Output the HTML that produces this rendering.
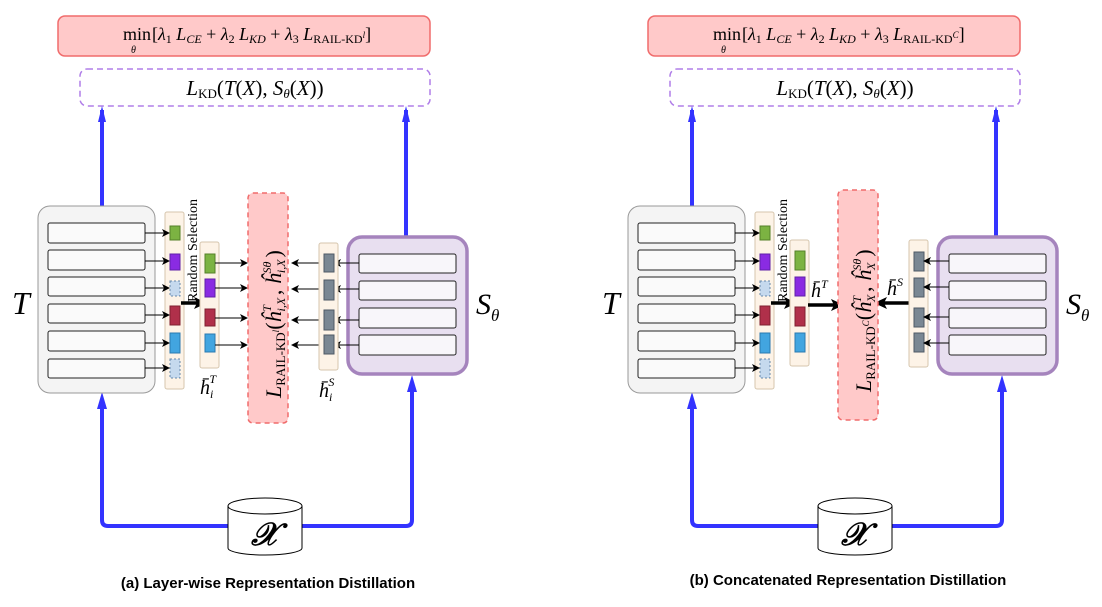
<!DOCTYPE html>
<html><head><meta charset="utf-8"><style>
html,body{margin:0;padding:0;background:#fff;}
svg{display:block;}
.m{font-family:"Liberation Serif",serif;font-style:italic;}
.r{font-family:"Liberation Serif",serif;}
</style></head><body>
<svg width="1102" height="607" viewBox="0 0 1102 607" xmlns="http://www.w3.org/2000/svg">
<defs>
<marker id="ah" markerWidth="8" markerHeight="8" refX="7" refY="4" orient="auto" markerUnits="userSpaceOnUse"><path d="M0,0 L8,4 L0,8 L2,4 z" fill="#000"/></marker>
<marker id="ahb" markerWidth="14" markerHeight="14" refX="12" refY="7" orient="auto" markerUnits="userSpaceOnUse"><path d="M0,1 L13,7 L0,13 L3,7 z" fill="#000"/></marker>
<g id="common">
  <rect x="58" y="16" width="372" height="40" rx="7" fill="#ffc9c9" stroke="#f06c6c" stroke-width="1.5"/>
  <rect x="80" y="69" width="350" height="37" rx="7" fill="#fff" stroke="#b07ee8" stroke-width="1.5" stroke-dasharray="6,4"/>
  <text x="255" y="95" text-anchor="middle" font-size="21" class="m">L<tspan font-size="13" font-style="normal" dy="3">KD</tspan><tspan dy="-3" font-style="normal">(</tspan>T<tspan font-style="normal">(</tspan>X<tspan font-style="normal">), </tspan>S<tspan font-size="13" dy="3">θ</tspan><tspan dy="-3" font-style="normal">(</tspan>X<tspan font-style="normal">))</tspan></text>
  <text x="123" y="40" font-size="18" class="r">min</text>
  <text x="131" y="53" font-size="10" class="m">θ</text>
  <path d="M102,206 L102,110" stroke="#3333ff" stroke-width="4" fill="none"/>
  <path d="M98,122 L102,106 L106,122 Z" fill="#3333ff"/>
  <path d="M406,236 L406,110" stroke="#3333ff" stroke-width="4" fill="none"/>
  <path d="M402,122 L406,106 L410,122 Z" fill="#3333ff"/>
  <path d="M228,526 L108,526 Q102,526 102,520 L102,400" stroke="#3333ff" stroke-width="4" fill="none"/>
  <path d="M97,409 L102,392 L107,409 Z" fill="#3333ff"/>
  <path d="M302,526 L406,526 Q412,526 412,520 L412,383" stroke="#3333ff" stroke-width="4" fill="none"/>
  <path d="M407,392 L412,375 L417,392 Z" fill="#3333ff"/>
  <path d="M228,506 L228,548 A37,7 0 0 0 302,548 L302,506" fill="#fff" stroke="#000" stroke-width="1"/>
  <ellipse cx="265" cy="506" rx="37" ry="8" fill="#fff" stroke="#000" stroke-width="1"/>
  <text x="265" y="545" text-anchor="middle" font-size="32" class="m" font-weight="bold">𝒳</text>
  <rect x="38" y="206" width="117" height="187" rx="12" fill="#f4f4f4" stroke="#999" stroke-width="1"/>
  <g fill="#fafafa" stroke="#222" stroke-width="1">
    <rect x="48" y="223" width="97" height="20" rx="2"/>
    <rect x="48" y="250" width="97" height="20" rx="2"/>
    <rect x="48" y="277" width="97" height="19" rx="2"/>
    <rect x="48" y="304" width="97" height="19" rx="2"/>
    <rect x="48" y="331" width="97" height="20" rx="2"/>
    <rect x="48" y="359" width="97" height="19" rx="2"/>
  </g>
  <text x="12" y="314" font-size="32" class="m">T</text>
  <rect x="165" y="212" width="19" height="177" rx="2" fill="#fdf3e7" stroke="#d6c6ae"/>
  <rect x="170" y="226" width="10" height="14" fill="#7cb342" stroke="#55802a"/>
  <rect x="170" y="254" width="10" height="16" fill="#8a2be2" stroke="#6020a8"/>
  <rect x="170" y="281" width="10" height="15" fill="#c5d9ee" stroke="#6688aa" stroke-dasharray="2,2"/>
  <rect x="170" y="306" width="10" height="19" fill="#b0304a" stroke="#802030"/>
  <rect x="170" y="333" width="10" height="20" fill="#42a5e0" stroke="#2a7ab0"/>
  <rect x="170" y="359" width="10" height="19" fill="#c5d9ee" stroke="#6688aa" stroke-dasharray="2,2"/>
  <g stroke="#000" stroke-width="1" marker-end="url(#ah)">
    <line x1="145" y1="233" x2="169" y2="233"/>
    <line x1="145" y1="261" x2="169" y2="261"/>
    <line x1="145" y1="288" x2="169" y2="288"/>
    <line x1="145" y1="315" x2="169" y2="315"/>
    <line x1="145" y1="343" x2="169" y2="343"/>
    <line x1="145" y1="368" x2="169" y2="368"/>
  </g>
  <text class="r" font-size="14" transform="translate(197,302) rotate(-90)">Random Selection</text>
  <line x1="181" y1="303" x2="206" y2="303" stroke="#000" stroke-width="3.5" marker-end="url(#ahb)"/>
  <rect x="348" y="237" width="119" height="137" rx="14" fill="#e8dff0" stroke="#a584bd" stroke-width="3.5"/>
  <g fill="#f8f6fa" stroke="#222" stroke-width="1">
    <rect x="359" y="254" width="97" height="19" rx="2"/>
    <rect x="359" y="281" width="97" height="19" rx="2"/>
    <rect x="359" y="308" width="97" height="20" rx="2"/>
    <rect x="359" y="335" width="97" height="20" rx="2"/>
  </g>
  <text x="476" y="314" font-size="30" class="m">S<tspan font-size="17" dy="7">θ</tspan></text>
</g>
</defs>

<use href="#common"/>
<use href="#common" transform="translate(590,0)"/>

<!-- LEFT -->
<text x="152" y="40" font-size="18" class="m"><tspan font-style="normal">[</tspan>λ<tspan font-size="12" font-style="normal" dy="3">1</tspan><tspan dy="-3"> L</tspan><tspan font-size="12" dy="3">CE</tspan><tspan dy="-3" font-style="normal"> + </tspan>λ<tspan font-size="12" font-style="normal" dy="3">2</tspan><tspan dy="-3"> L</tspan><tspan font-size="12" dy="3">KD</tspan><tspan dy="-3" font-style="normal"> + </tspan>λ<tspan font-size="12" font-style="normal" dy="3">3</tspan><tspan dy="-3"> L</tspan><tspan font-size="12" font-style="normal" dy="3">RAIL-KD</tspan><tspan font-size="9" dy="-5">l</tspan><tspan dy="2" font-style="normal">]</tspan></text>
<rect x="200" y="242" width="19" height="126" rx="2" fill="#fdf3e7" stroke="#d6c6ae"/>
<rect x="205" y="254" width="10" height="19" fill="#7cb342" stroke="#55802a"/>
<rect x="205" y="279" width="10" height="18" fill="#8a2be2" stroke="#6020a8"/>
<rect x="205" y="309" width="10" height="17" fill="#b0304a" stroke="#802030"/>
<rect x="205" y="334" width="10" height="18" fill="#42a5e0" stroke="#2a7ab0"/>
<g stroke="#000" stroke-width="1" marker-end="url(#ah)">
  <line x1="215" y1="263" x2="247" y2="263"/>
  <line x1="215" y1="288" x2="247" y2="288"/>
  <line x1="215" y1="318" x2="247" y2="318"/>
  <line x1="215" y1="345" x2="247" y2="345"/>
  <line x1="324" y1="263" x2="292" y2="263"/>
  <line x1="324" y1="289" x2="292" y2="289"/>
  <line x1="324" y1="320" x2="292" y2="320"/>
  <line x1="324" y1="345" x2="292" y2="345"/>
  <line x1="359" y1="263" x2="334" y2="263"/>
  <line x1="359" y1="289" x2="334" y2="289"/>
  <line x1="359" y1="320" x2="334" y2="320"/>
  <line x1="359" y1="345" x2="334" y2="345"/>
</g>
<rect x="248" y="193" width="40" height="230" rx="5" fill="#ffc9c9" stroke="#f06c6c" stroke-width="1.5" stroke-dasharray="5,4"/>
<text font-size="22" class="m" transform="translate(281,398) rotate(-90)">L<tspan font-size="13" font-style="normal" dy="4">RAIL-KD</tspan><tspan font-size="9" dy="-6">l</tspan><tspan dy="2" font-style="normal">(</tspan>ĥ<tspan font-size="12" dy="4">i,X</tspan><tspan font-size="12" dx="-14" dy="-14">T</tspan><tspan dx="10" dy="10" font-style="normal">, </tspan>ĥ<tspan font-size="12" dy="4">i,X</tspan><tspan font-size="12" dx="-14" dy="-14">Sθ</tspan><tspan dx="4" dy="10" font-style="normal">)</tspan></text>
<rect x="319" y="243" width="19" height="127" rx="2" fill="#fdf3e7" stroke="#d6c6ae"/>
<g fill="#7a8793" stroke="#4e5a66">
  <rect x="324" y="254" width="10" height="18"/>
  <rect x="324" y="280" width="10" height="20"/>
  <rect x="324" y="310" width="10" height="20"/>
  <rect x="324" y="335" width="10" height="19"/>
</g>
<text x="200" y="394" font-size="20" class="m">h̄<tspan font-size="12" dy="4">i</tspan><tspan font-size="12" dx="-4" dy="-15">T</tspan></text>
<text x="319" y="397" font-size="20" class="m">h̄<tspan font-size="12" dy="4">i</tspan><tspan font-size="12" dx="-4" dy="-15">S</tspan></text>
<text x="268" y="588" text-anchor="middle" font-family="Liberation Sans, sans-serif" font-weight="bold" font-size="15">(a) Layer-wise Representation Distillation</text>

<!-- RIGHT -->
<text x="742" y="40" font-size="18" class="m"><tspan font-style="normal">[</tspan>λ<tspan font-size="12" font-style="normal" dy="3">1</tspan><tspan dy="-3"> L</tspan><tspan font-size="12" dy="3">CE</tspan><tspan dy="-3" font-style="normal"> + </tspan>λ<tspan font-size="12" font-style="normal" dy="3">2</tspan><tspan dy="-3"> L</tspan><tspan font-size="12" dy="3">KD</tspan><tspan dy="-3" font-style="normal"> + </tspan>λ<tspan font-size="12" font-style="normal" dy="3">3</tspan><tspan dy="-3"> L</tspan><tspan font-size="12" font-style="normal" dy="3">RAIL-KD</tspan><tspan font-size="9" dy="-5">C</tspan><tspan dy="2" font-style="normal">]</tspan></text>
<rect x="790" y="240" width="19" height="126" rx="2" fill="#fdf3e7" stroke="#d6c6ae"/>
<rect x="795" y="251" width="10" height="19" fill="#7cb342" stroke="#55802a"/>
<rect x="795" y="277" width="10" height="19" fill="#8a2be2" stroke="#6020a8"/>
<rect x="795" y="307" width="10" height="19" fill="#b0304a" stroke="#802030"/>
<rect x="795" y="333" width="10" height="19" fill="#42a5e0" stroke="#2a7ab0"/>
<line x1="808" y1="305" x2="843" y2="305" stroke="#000" stroke-width="3.5" marker-end="url(#ahb)"/>
<line x1="912" y1="303" x2="875" y2="303" stroke="#000" stroke-width="3.5" marker-end="url(#ahb)"/>
<rect x="838" y="190" width="40" height="230" rx="5" fill="#ffc9c9" stroke="#f06c6c" stroke-width="1.5" stroke-dasharray="5,4"/>
<text font-size="22" class="m" transform="translate(871,392) rotate(-90)">L<tspan font-size="13" font-style="normal" dy="4">RAIL-KD</tspan><tspan font-size="9" dy="-6">C</tspan><tspan dy="2" font-style="normal">(</tspan>ĥ<tspan font-size="12" dy="4">X</tspan><tspan font-size="12" dx="-8" dy="-14">T</tspan><tspan dx="4" dy="10" font-style="normal">, </tspan>ĥ<tspan font-size="12" dy="4">X</tspan><tspan font-size="12" dx="-8" dy="-14">Sθ</tspan><tspan dx="2" dy="10" font-style="normal">)</tspan></text>
<rect x="909" y="240" width="19" height="127" rx="2" fill="#fdf3e7" stroke="#d6c6ae"/>
<g fill="#7a8793" stroke="#4e5a66">
  <rect x="914" y="252" width="10" height="19"/>
  <rect x="914" y="278" width="10" height="19"/>
  <rect x="914" y="308" width="10" height="19"/>
  <rect x="914" y="333" width="10" height="19"/>
</g>
<g stroke="#000" stroke-width="1" marker-end="url(#ah)">
  <line x1="949" y1="261" x2="924" y2="261"/>
  <line x1="949" y1="287" x2="924" y2="287"/>
  <line x1="949" y1="317" x2="924" y2="317"/>
  <line x1="949" y1="343" x2="924" y2="343"/>
</g>
<text x="811" y="297" font-size="20" class="m">h̄<tspan font-size="12" dy="-9">T</tspan></text>
<text x="887" y="295" font-size="20" class="m">h̄<tspan font-size="12" dy="-9">S</tspan></text>
<text x="848" y="585" text-anchor="middle" font-family="Liberation Sans, sans-serif" font-weight="bold" font-size="15">(b) Concatenated Representation Distillation</text>
</svg>
</body></html>
